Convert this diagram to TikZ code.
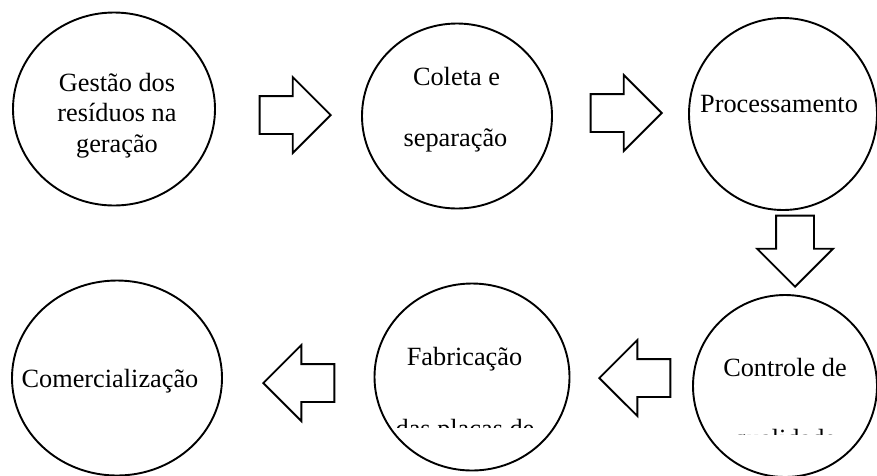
\documentclass[tikz,border=0pt]{standalone}
\usepackage{fontspec}
\setmainfont{Liberation Serif}
\usetikzlibrary{shapes,arrows,positioning}

\begin{document}
\begin{tikzpicture}[x=1pt,y=-1pt]

        \tikzstyle{every node}=[font=\fontsize{26.3}{30.2}\selectfont]
        \tikzstyle{etapa}=[draw,ellipse,line width=1.9pt,inner sep=0pt]
        \tikzstyle{seta}=[draw,single arrow,line width=1.9pt,inner xsep=0pt,inner ysep=18pt,single arrow head extend=19pt,minimum height=71pt]
        \tikzstyle{rotulo}=[anchor=base,inner sep=0pt]
        \useasboundingbox (0,0) rectangle (877,475);

        % etapas
        \node[etapa,minimum width=202pt,minimum height=193pt] (gestao) at (114,109) {};
        \node[etapa,minimum width=190pt,minimum height=185pt] (coleta) at (457,116) {};
        \node[etapa,minimum width=188pt,minimum height=192pt] (proc) at (783,114) {};
        \node[etapa,minimum width=184pt,minimum height=182pt] (controle) at (785,386) {};
        \node[etapa,minimum width=195pt,minimum height=187pt] (fabric) at (472,377) {};
        \node[etapa,minimum width=210pt,minimum height=195pt] (comerc) at (117,378) {};

        % textos
        \node[rotulo] (gestao1) at (117,91) {Gestão dos};
        \node[rotulo] (gestao2) at (117,121.5) {resíduos na};
        \node[rotulo] (gestao3) at (117,152) {geração};
        \node[rotulo] (coleta1) at (456.5,85) {Coleta e};
        \node[rotulo] (coleta2) at (455.5,146) {separação};
        \node[rotulo] (proc1) at (779,112) {Processamento};
        \node[rotulo] (controle1) at (785,376) {Controle de};
        \node[rotulo] (fabric1) at (464.5,365) {Fabricação};
        \node[rotulo] (comerc1) at (110,387) {Comercialização};
        \begin{scope}
        \clip (380,400) rectangle (560,427);
        \node[rotulo] (fabric2) at (465,437) {das placas de};
        \end{scope}
        \begin{scope}
        \clip (700,400) rectangle (870,434);
        \node[rotulo] (controle2) at (785,447) {qualidade};
        \end{scope}

        % setas
        \node[seta,anchor=tip] (s1) at (332,115) {};
        \node[seta,anchor=tip] (s2) at (663,113) {};
        \node[seta,anchor=tip,rotate=-90] (s3) at (795,288) {};
        \node[seta,anchor=tip,rotate=180] (s4) at (598,378) {};
        \node[seta,anchor=tip,rotate=180] (s5) at (262,383) {};
      \end{tikzpicture}
\end{document}
